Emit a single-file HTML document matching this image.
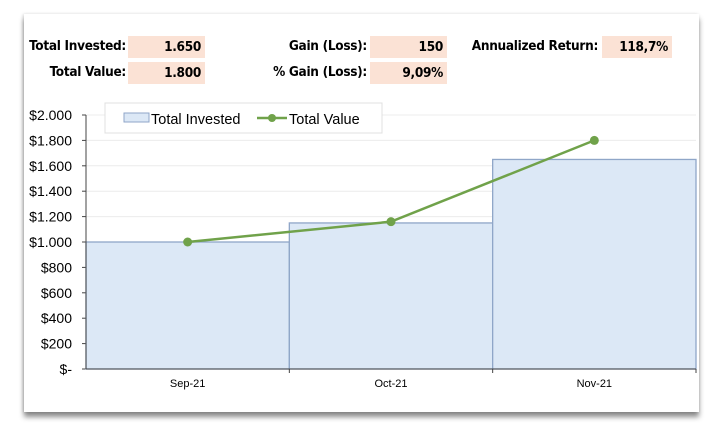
<!DOCTYPE html>
<html><head><meta charset="utf-8"><style>
body{margin:0;width:720px;height:440px;background:#fff;overflow:hidden;font-family:"Liberation Sans",sans-serif}
#card{position:absolute;left:24px;top:14px;width:675px;height:398px;background:#fff;box-shadow:0 5px 5px rgba(0,0,0,.45),-1px 0 3px rgba(0,0,0,.15)}
.lbl{position:absolute;font-weight:bold;font-size:13.5px;text-align:right;font-family:"DejaVu Sans Condensed","Liberation Sans Narrow",sans-serif;letter-spacing:-0.3px}
.box{position:absolute;background:#fbe2d5;font-weight:bold;font-size:13.5px;text-align:right;padding-right:4px;box-sizing:border-box;height:22px;line-height:22px;font-family:"DejaVu Sans Condensed","Liberation Sans Narrow",sans-serif;letter-spacing:-0.3px}
</style></head><body>
<div id="card"></div>
<div class="lbl" style="left:0;width:126px;top:38px">Total Invested:</div>
<div class="box" style="left:128px;top:36px;width:77px">1.650</div>
<div class="lbl" style="left:0;width:126px;top:64px">Total Value:</div>
<div class="box" style="left:128px;top:62px;width:77px">1.800</div>
<div class="lbl" style="left:220px;width:147px;top:38px">Gain (Loss):</div>
<div class="box" style="left:370px;top:36px;width:77px">150</div>
<div class="lbl" style="left:220px;width:147px;top:64px">% Gain (Loss):</div>
<div class="box" style="left:370px;top:62px;width:77px">9,09%</div>
<div class="lbl" style="left:450px;width:148px;top:38px">Annualized Return:</div>
<div class="box" style="left:602px;top:36px;width:70px">118,7%</div>
<svg id="chart" width="720" height="440" style="position:absolute;left:0;top:0"></svg>
<script>
const categories=["Sep-21","Oct-21","Nov-21"];
const investedValues=[1000,1150,1650];
const totalValues=[1000,1160,1800];
const yTicks=[0,200,400,600,800,1000,1200,1400,1600,1800,2000];
const yTickLabels=["$-","$200","$400","$600","$800","$1.000","$1.200","$1.400","$1.600","$1.800","$2.000"];
const svg=document.getElementById('chart');const NS='http://www.w3.org/2000/svg';
const X0=86,X1=696,Y0=369,Y1=115,YMAX=2000;
const y=v=>Y0-(v/YMAX)*(Y0-Y1);
const bw=(X1-X0)/categories.length;
const xc=i=>X0+bw*(i+0.5);
function mk(t,a,p){const e=document.createElementNS(NS,t);for(const k in a)e.setAttribute(k,a[k]);(p||svg).appendChild(e);return e;}
yTicks.forEach((v,i)=>{
 if(v>0){const g=mk('line',{x1:X0,x2:X1,y1:y(v),y2:y(v),stroke:'#ececec','stroke-width':1});
 
 }
 const t=mk('line',{x1:X0-4,x2:X0,y1:y(v),y2:y(v),stroke:'#444'});
 
 
 const l=mk('text',{x:72,y:y(v)+5,'text-anchor':'end','font-size':14,fill:'#000','font-family':'Liberation Sans Narrow, Liberation Sans, sans-serif'});
 l.textContent=yTickLabels[i];
 
 
});
investedValues.forEach((v,i)=>{
 const r=mk('rect',{x:X0+bw*i,y:y(v),width:bw,height:Y0-y(v),fill:'#dce8f6',stroke:'#8fa6c8','stroke-width':1.3});
 
 
});
mk('line',{x1:X0,x2:X0,y1:Y1,y2:Y0,stroke:'#444'});
mk('line',{x1:X0,x2:X1,y1:Y0,y2:Y0,stroke:'#444'});
categories.forEach((c,i)=>{
 mk('line',{x1:X0+bw*(i+1),x2:X0+bw*(i+1),y1:Y0,y2:Y0+4,stroke:'#444'});
 const t=mk('text',{x:xc(i),y:387,'text-anchor':'middle','font-size':11,fill:'#000'});
 t.textContent=c;
 
 
});
const pl=mk('polyline',{points:totalValues.map((v,i)=>xc(i)+','+y(v)).join(' '),fill:'none',stroke:'#70a24a','stroke-width':2.5});


totalValues.forEach((v,i)=>{
 const c=mk('circle',{cx:xc(i),cy:y(v),r:4.5,fill:'#70a24a'});
 
 
});
const lg=mk('g',{});


mk('rect',{x:105,y:103,width:277,height:30,fill:'#fff',stroke:'#e0e0e0'},lg);
mk('rect',{x:124,y:113,width:25,height:9,fill:'#dce8f6',stroke:'#8fa6c8'},lg);
const t1=mk('text',{x:151,y:124,'font-size':14.5,fill:'#000','font-family':'Liberation Sans Narrow, Liberation Sans, sans-serif'},lg);t1.textContent='Total Invested';
mk('line',{x1:257,x2:287,y1:118,y2:118,stroke:'#70a24a','stroke-width':2.5},lg);
mk('circle',{cx:272,cy:118,r:4,fill:'#70a24a'},lg);
const t2=mk('text',{x:289,y:124,'font-size':14.5,fill:'#000','font-family':'Liberation Sans Narrow, Liberation Sans, sans-serif'},lg);t2.textContent='Total Value';
</script>
</body></html>
